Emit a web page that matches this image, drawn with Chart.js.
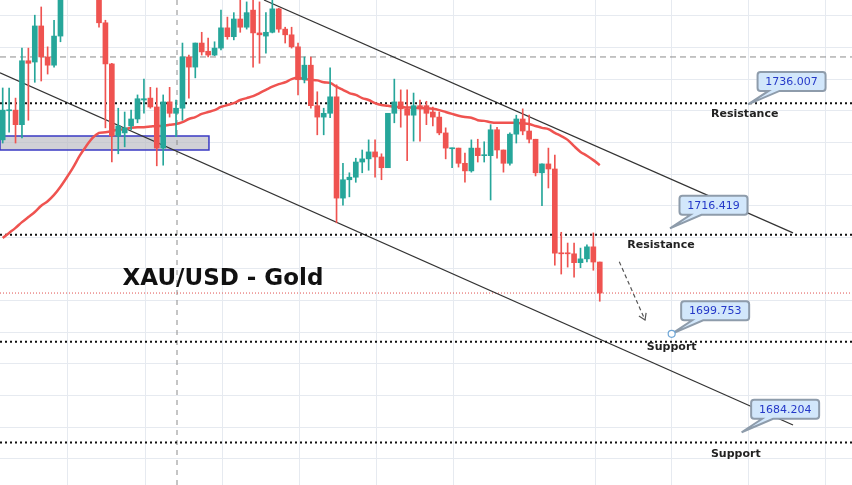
<!DOCTYPE html>
<html>
<head>
<meta charset="utf-8">
<title>XAU/USD - Gold</title>
<script src="https://cdn.jsdelivr.net/npm/chart.js@4.4.0/dist/chart.umd.min.js"></script>
<style>
  html, body { margin: 0; padding: 0; background: #ffffff; }
  #wrap { width: 852px; height: 485px; }
</style>
</head>
<body>
<div id="wrap"><canvas id="priceChart" width="852" height="485"></canvas></div>
<script>
      // candle data (hourly bars)
      const opens = [1730.4,1735.0,1735.1,1732.8,1742.9,1742.7,1748.4,1743.5,1742.2,1746.8,
        1756.5,1754.1,1758.8,1762.0,1758.8,1755.7,1748.9,1742.4,1731.0,1731.5,
        1732.6,1733.7,1736.7,1737.0,1735.6,1729.1,1736.4,1734.6,1735.4,1743.5,
        1741.9,1745.7,1744.4,1743.8,1744.9,1748.1,1746.7,1749.5,1748.2,1750.9,
        1747.3,1746.8,1747.4,1751.1,1747.9,1747.0,1745.1,1739.9,1742.2,1735.8,
        1734.0,1734.6,1737.2,1721.2,1724.1,1724.5,1726.9,1727.4,1728.5,1727.7,
        1726.0,1734.6,1736.4,1735.3,1734.3,1735.8,1735.8,1734.8,1734.0,1731.5,
        1729.0,1729.1,1726.7,1725.5,1729.1,1727.9,1727.9,1732.0,1728.8,1726.7,
        1731.3,1733.7,1731.8,1730.5,1725.2,1726.6,1725.8,1712.5,1712.5,1712.4,
        1711.0,1711.6,1713.5,1711.1];
      const highs = [1738.6,1738.6,1737.0,1744.9,1744.9,1750.1,1751.4,1745.1,1749.3,1758.0,
        1758.8,1760.4,1763.6,1763.6,1760.4,1757.2,1749.3,1742.5,1735.4,1734.8,
        1735.1,1737.5,1740.0,1738.7,1738.6,1737.5,1738.7,1736.7,1745.7,1743.8,
        1745.7,1747.4,1746.5,1745.9,1750.9,1749.8,1750.5,1752.8,1752.2,1752.8,
        1752.2,1750.5,1752.8,1751.2,1748.2,1748.2,1745.7,1743.5,1743.5,1738.0,
        1735.4,1741.8,1739.1,1726.7,1725.2,1727.5,1728.8,1730.4,1730.4,1728.2,
        1734.6,1740.0,1738.3,1738.3,1737.8,1736.7,1736.5,1735.6,1734.8,1732.3,
        1729.1,1729.1,1728.3,1730.4,1730.5,1730.1,1732.8,1732.4,1728.8,1731.5,
        1734.3,1735.3,1734.3,1730.5,1726.6,1729.1,1728.0,1715.8,1714.1,1714.1,
        1713.3,1713.8,1715.7,1711.1];
      const lows = [1729.9,1731.6,1729.9,1730.7,1733.5,1739.5,1739.7,1740.8,1741.9,1745.9,
        1753.3,1753.3,1758.0,1757.2,1754.4,1748.2,1732.3,1726.9,1728.2,1729.3,
        1732.0,1733.1,1734.6,1735.4,1726.3,1726.4,1734.0,1730.9,1733.5,1737.0,
        1740.2,1743.8,1743.5,1743.7,1744.6,1746.3,1746.2,1747.4,1747.9,1741.9,
        1742.5,1744.1,1747.3,1747.4,1745.7,1744.9,1737.5,1739.4,1735.4,1731.2,
        1731.2,1733.9,1717.3,1720.1,1721.4,1723.7,1725.2,1725.6,1724.5,1724.1,
        1726.0,1733.1,1732.4,1727.1,1730.2,1730.2,1732.8,1732.6,1731.2,1727.4,
        1726.0,1726.1,1723.7,1725.3,1726.9,1726.9,1720.9,1727.5,1725.3,1726.4,
        1729.9,1731.2,1729.9,1724.7,1720.0,1722.8,1710.6,1709.2,1710.3,1708.7,
        1710.2,1711.1,1709.8,1704.9];
      const closes = [1735.1,1735.1,1732.8,1742.9,1742.5,1748.4,1743.5,1742.2,1746.8,1756.5,
        1754.1,1758.8,1762.0,1758.8,1755.7,1748.9,1742.4,1731.0,1732.6,1732.3,
        1733.7,1736.9,1736.9,1735.6,1729.1,1736.4,1734.6,1735.4,1743.5,1741.9,
        1745.7,1744.3,1743.8,1744.9,1748.1,1746.7,1749.5,1748.2,1750.5,1747.3,
        1747.0,1747.4,1751.1,1747.9,1747.0,1745.1,1739.9,1742.2,1735.8,1734.0,
        1734.6,1737.2,1721.2,1724.1,1724.5,1726.9,1727.4,1728.5,1727.7,1726.0,
        1734.6,1736.4,1735.3,1734.3,1735.8,1735.6,1734.6,1734.0,1731.5,1729.1,
        1729.1,1726.7,1725.5,1729.1,1727.9,1728.0,1732.0,1728.8,1726.7,1731.3,
        1733.7,1731.8,1730.5,1725.2,1726.6,1725.8,1712.5,1712.4,1712.4,1711.0,
        1711.6,1713.5,1711.1,1706.2];
      // moving average line
      const movingAvg = [1714.9,1715.7,1716.5,1717.4,1718.2,1719.0,1720.0,1720.7,1721.7,1723.0,
        1724.5,1726.1,1727.9,1729.4,1730.7,1731.5,1731.6,1731.8,1732.0,1732.1,
        1732.3,1732.4,1732.4,1732.5,1732.6,1732.6,1732.8,1732.9,1733.2,1733.7,
        1734.0,1734.5,1734.8,1735.1,1735.6,1735.9,1736.2,1736.7,1737.0,1737.3,
        1737.8,1738.3,1738.8,1739.2,1739.5,1740.0,1740.2,1740.0,1739.9,1739.8,
        1739.5,1739.4,1738.8,1738.3,1737.8,1737.5,1737.0,1736.7,1736.2,1735.9,
        1735.8,1735.6,1735.6,1735.5,1735.5,1735.4,1735.4,1735.3,1735.1,1734.8,
        1734.5,1734.2,1734.0,1733.9,1733.5,1733.4,1733.2,1733.1,1733.1,1733.1,
        1733.1,1733.0,1732.9,1732.6,1732.3,1732.1,1731.5,1731.0,1730.4,1729.4,
        1728.5,1727.9,1727.2,1726.4];

      // drawn levels and tools
      const levelLines = [1736.2, 1715.4, 1698.5, 1682.6];
      const dashedLevel = 1743.5;
      const lastPrice = 1706.2;
      const dashedBar = 27.15;
      const upperChannel = [[40.7, 1752.5], [123.1, 1715.7]];
      const lowerChannel = [[-0.42, 1741.0], [123.1, 1685.35]];
      const zoneBox = [[-0.42, 1731.0], [32.13, 1731.0], [32.13, 1728.8], [-0.42, 1728.8], [-0.42, 1731.0]];
      const arrowLine = [[96.04, 1711.15], [100.05, 1701.94]];
      const arrowHead = [[99.1, 1702.56], [100.05, 1701.94], [100.22, 1703.06]];
      const calloutValues = ["1736.007", "1716.419", "1699.753", "1684.204"];
      const calloutBars = [116.1, 103.94, 104.2, 115.1];
      const levelNames = ["Resistance", "Resistance", "Support", "Support"];
      const levelNameAt = [[115.58, 1734.49], [102.54, 1713.84], [104.21, 1697.67], [114.19, 1680.74]];
      const titleText = "XAU/USD - Gold";
      const titleAt = [34.31, 1708.34];
      const xGridAt = [10.17, 22.17, 34.17, 46.17, 58.3, 70.15, 92.26, 104.25, 116.1, 128.1];

      const UP = "#26a69a";
      const DOWN = "#ef5350";
      const X_MIN = -0.42, X_MAX = 132.29, Y_MIN = 1675.87, Y_MAX = 1752.5;

      const idx = opens.map((_, i) => i);
      const candleColors = idx.map((i) => (closes[i] >= opens[i] ? UP : DOWN));
      const pts = (arr) => arr.map((p) => ({ x: p[0], y: p[1] }));
      const hLine = (v) => [{ x: X_MIN, y: v }, { x: X_MAX, y: v }];

      // text, callouts and labels
      const notes = {
        id: "notes",
        afterDatasetsDraw(chart) {
          const { ctx, scales } = chart;
          const px = (v) => scales.x.getPixelForValue(v);
          const py = (v) => scales.y.getPixelForValue(v);
          ctx.save();
          ctx.textAlign = "center";
          ctx.textBaseline = "middle";

          ctx.font = 'bold 23px "DejaVu Sans"';
          ctx.fillStyle = "#111111";
          ctx.fillText(titleText, px(titleAt[0]), py(titleAt[1]));

          ctx.font = 'bold 11px "DejaVu Sans"';
          ctx.fillStyle = "#222222";
          levelNames.forEach((t, k) => {
            ctx.fillText(t, px(levelNameAt[k][0]), py(levelNameAt[k][1]));
          });

          calloutValues.forEach((label, k) => {
            const tx = px(calloutBars[k]);
            const ty = py(parseFloat(label));
            const w = 68, h = 19, r = 3;
            const cx = tx + 43.5, cy = ty - 23;
            const l = cx - w / 2, rt = cx + w / 2, t = cy - h / 2, b = cy + h / 2;
            ctx.beginPath();
            ctx.moveTo(l + r, t);
            ctx.lineTo(rt - r, t);
            ctx.arcTo(rt, t, rt, t + r, r);
            ctx.lineTo(rt, b - r);
            ctx.arcTo(rt, b, rt - r, b, r);
            ctx.lineTo(l + 22, b);
            ctx.lineTo(tx, ty);
            ctx.lineTo(l + 11, b);
            ctx.lineTo(l + r, b);
            ctx.arcTo(l, b, l, b - r, r);
            ctx.lineTo(l, t + r);
            ctx.arcTo(l, t, l + r, t, r);
            ctx.closePath();
            ctx.fillStyle = "#d2e7fb";
            ctx.fill();
            ctx.lineWidth = 2;
            ctx.strokeStyle = "#8e9cab";
            ctx.stroke();
            ctx.font = '11px "DejaVu Sans"';
            ctx.fillStyle = "#2438c8";
            ctx.fillText(label, cx, cy + 0.5);
            if (k === 2) {
              ctx.beginPath();
              ctx.arc(tx, ty, 3.5, 0, Math.PI * 2);
              ctx.fillStyle = "#ffffff";
              ctx.fill();
              ctx.lineWidth = 1.2;
              ctx.strokeStyle = "#6ea6d6";
              ctx.stroke();
            }
          });
          ctx.restore();
        },
      };

      const ctx = document.getElementById("priceChart").getContext("2d");
      const chart = new Chart(ctx, {
        type: "bar",
        data: {
          datasets: [
            {
              label: "wicks",
              data: idx.map((i) => ({ x: i, y: [lows[i], highs[i]] })),
              backgroundColor: candleColors,
              barThickness: 1,
              grouped: false,
              order: 1,
            },
            {
              label: "bodies",
              data: idx.map((i) => ({ x: i, y: [opens[i], closes[i]] })),
              backgroundColor: candleColors,
              barThickness: 5,
              minBarLength: 1,
              grouped: false,
              order: 0,
            },
            {
              type: "line",
              label: "MA",
              data: idx.map((i) => ({ x: i, y: movingAvg[i] })),
              borderColor: "#ef5350",
              borderWidth: 2.5,
              pointRadius: 0,
              tension: 0.3,
              order: 2,
            },
            ...levelLines.map((v) => ({
              type: "line",
              data: hLine(v),
              borderColor: "#111111",
              borderWidth: 2,
              borderDash: [2, 3],
              pointRadius: 0,
              order: 3,
            })),
            {
              type: "line",
              data: hLine(dashedLevel),
              borderColor: "#8c8c8c",
              borderWidth: 1,
              borderDash: [6, 4],
              pointRadius: 0,
              order: 4,
            },
            {
              type: "line",
              data: hLine(lastPrice),
              borderColor: "#e0504d",
              borderWidth: 1,
              borderDash: [1, 2],
              pointRadius: 0,
              order: 4,
            },
            {
              type: "line",
              data: [{ x: dashedBar, y: Y_MIN }, { x: dashedBar, y: Y_MAX }],
              borderColor: "#8c8c8c",
              borderWidth: 1,
              borderDash: [5, 5],
              pointRadius: 0,
              order: 4,
            },
            {
              type: "line",
              data: pts(upperChannel),
              borderColor: "#333333",
              borderWidth: 1.2,
              pointRadius: 0,
              order: 3,
            },
            {
              type: "line",
              data: pts(lowerChannel),
              borderColor: "#333333",
              borderWidth: 1.2,
              pointRadius: 0,
              order: 3,
            },
            {
              type: "line",
              data: pts(zoneBox),
              borderColor: "#3a3ac4",
              borderWidth: 1.5,
              backgroundColor: "rgba(185,185,192,0.65)",
              fill: "shape",
              pointRadius: 0,
              order: 6,
            },
            {
              type: "line",
              data: pts(arrowLine),
              borderColor: "#555555",
              borderWidth: 1.2,
              borderDash: [4, 3],
              pointRadius: 0,
              order: 3,
            },
            {
              type: "line",
              data: pts(arrowHead),
              borderColor: "#555555",
              borderWidth: 1.2,
              pointRadius: 0,
              order: 3,
            },
          ],
        },
        options: {
          responsive: false,
          devicePixelRatio: 1,
          animation: false,
          layout: { padding: 0 },
          plugins: { legend: { display: false }, tooltip: { enabled: false } },
          scales: {
            x: {
              type: "linear",
              min: X_MIN,
              max: X_MAX,
              offset: false,
              afterBuildTicks: (s) => {
                s.ticks = xGridAt.map((v) => ({ value: v }));
              },
              ticks: { display: false },
              grid: { color: "#e6eaf0", drawTicks: false, offset: false },
              border: { display: false },
            },
            y: {
              type: "linear",
              min: Y_MIN,
              max: Y_MAX,
              ticks: { display: false, stepSize: 5, includeBounds: false },
              grid: { color: "#e6eaf0", drawTicks: false },
              border: { display: false },
            },
          },
        },
        plugins: [notes],
      });
</script>
</body>
</html>
